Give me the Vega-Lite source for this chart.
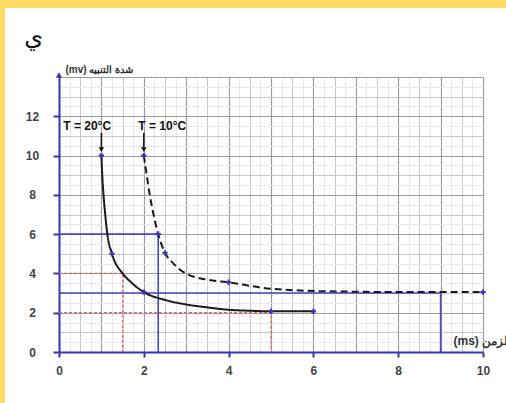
{
  "$schema": "https://vega.github.io/schema/vega-lite/v6.json",
  "width": 424,
  "height": 275,
  "autosize": "none",
  "padding": {"left": 59, "top": 77, "right": 23, "bottom": 51},
  "background": "white",
  "config": {"view": {"stroke": null}, "font": "Liberation Sans"},
  "datasets": {
    "refs": [
      {"id": "a", "o": 1, "x": 0, "y": 6},
      {"id": "a", "o": 2, "x": 2.34, "y": 6},
      {"id": "a", "o": 3, "x": 2.34, "y": 0},
      {"id": "b", "o": 1, "x": 0, "y": 3},
      {"id": "b", "o": 2, "x": 9, "y": 3},
      {"id": "b", "o": 3, "x": 9, "y": 0}
    ],
    "reds": [
      {"id": "a", "o": 1, "x": 0, "y": 4},
      {"id": "a", "o": 2, "x": 1.5, "y": 4},
      {"id": "a", "o": 3, "x": 1.5, "y": 0},
      {"id": "b", "o": 1, "x": 0, "y": 2},
      {"id": "b", "o": 2, "x": 5, "y": 2},
      {"id": "b", "o": 3, "x": 5, "y": 0}
    ],
    "curves": [
      {"T": "20", "x": 1, "y": 10},
      {"T": "20", "x": 1.02, "y": 9},
      {"T": "20", "x": 1.05, "y": 8},
      {"T": "20", "x": 1.09, "y": 7},
      {"T": "20", "x": 1.14, "y": 6},
      {"T": "20", "x": 1.25, "y": 5},
      {"T": "20", "x": 1.5, "y": 4},
      {"T": "20", "x": 1.7, "y": 3.55},
      {"T": "20", "x": 2, "y": 3.05},
      {"T": "20", "x": 2.5, "y": 2.65},
      {"T": "20", "x": 3, "y": 2.42},
      {"T": "20", "x": 3.5, "y": 2.27},
      {"T": "20", "x": 4, "y": 2.15},
      {"T": "20", "x": 4.5, "y": 2.1},
      {"T": "20", "x": 5, "y": 2.07},
      {"T": "20", "x": 6, "y": 2.07},
      {"T": "10", "x": 2, "y": 10},
      {"T": "10", "x": 2.07, "y": 9},
      {"T": "10", "x": 2.14, "y": 8},
      {"T": "10", "x": 2.23, "y": 7},
      {"T": "10", "x": 2.34, "y": 6},
      {"T": "10", "x": 2.5, "y": 5.05},
      {"T": "10", "x": 2.7, "y": 4.5},
      {"T": "10", "x": 2.95, "y": 4.05},
      {"T": "10", "x": 3.5, "y": 3.68},
      {"T": "10", "x": 4, "y": 3.55},
      {"T": "10", "x": 4.8, "y": 3.27},
      {"T": "10", "x": 5.8, "y": 3.12},
      {"T": "10", "x": 7, "y": 3.07},
      {"T": "10", "x": 8, "y": 3.05},
      {"T": "10", "x": 10, "y": 3.05}
    ],
    "markers": [
      {"x": 1, "y": 10},
      {"x": 1.25, "y": 5},
      {"x": 2, "y": 3.05},
      {"x": 5, "y": 2.07},
      {"x": 6, "y": 2.07},
      {"x": 2, "y": 10},
      {"x": 2.34, "y": 6},
      {"x": 2.5, "y": 5.05},
      {"x": 4, "y": 3.55},
      {"x": 10, "y": 3.05}
    ],
    "arrows": [
      {"x": 1, "top": 11.15, "tip": 10.3},
      {"x": 2, "top": 11.15, "tip": 10.3}
    ],
    "labels": [
      {"label": "T = 20°C", "x": 0.1, "y": 11.5},
      {"label": "T = 10°C", "x": 1.87, "y": 11.5}
    ]
  },
  "layer": [
    {
      "data": {"name": "refs"},
      "mark": {"type": "line", "color": "#4646c8", "strokeWidth": 1.6},
      "encoding": {
        "x": {"field": "x", "type": "quantitative", "scale": {"domain": [0, 10], "nice": false, "zero": false},
          "axis": {"orient": "top", "title": null, "domain": false, "ticks": false, "labels": false, "grid": true, "gridColor": "#e8e8e8", "gridWidth": 1,
            "values": [0.25, 0.75, 1.25, 1.75, 2.25, 2.75, 3.25, 3.75, 4.25, 4.75, 5.25, 5.75, 6.25, 6.75, 7.25, 7.75, 8.25, 8.75, 9.25, 9.75]}},
        "y": {"field": "y", "type": "quantitative", "scale": {"domain": [0, 14], "nice": false, "zero": false},
          "axis": {"orient": "right", "title": null, "domain": false, "ticks": false, "labels": false, "grid": true, "gridColor": "#e8e8e8", "gridWidth": 1,
            "values": [0.5, 1.5, 2.5, 3.5, 4.5, 5.5, 6.5, 7.5, 8.5, 9.5, 10.5, 11.5, 12.5, 13.5]}},
        "detail": {"field": "id"},
        "order": {"field": "o"}
      }
    },
    {
      "data": {"name": "reds"},
      "mark": {"type": "line", "color": "#e06464", "strokeWidth": 1.2, "strokeDash": [3, 2]},
      "encoding": {
        "x": {"field": "x", "type": "quantitative", "scale": {"domain": [0, 10], "nice": false, "zero": false},
          "axis": {"orient": "top", "title": null, "domain": false, "ticks": false, "labels": false, "grid": true, "gridColor": "#c8c8c8", "gridWidth": 1,
            "values": [0.5, 1.5, 2.5, 3.5, 4.5, 5.5, 6.5, 7.5, 8.5, 9.5]}},
        "y": {"field": "y", "type": "quantitative", "scale": {"domain": [0, 14], "nice": false, "zero": false},
          "axis": {"orient": "right", "title": null, "domain": false, "ticks": false, "labels": false, "grid": true, "gridColor": "#c8c8c8", "gridWidth": 1,
            "values": [1, 3, 5, 7, 9, 11, 13]}},
        "detail": {"field": "id"},
        "order": {"field": "o"}
      }
    },
    {
      "data": {"name": "curves"},
      "mark": {"type": "line", "color": "#1a1a1a", "strokeWidth": 2, "interpolate": "monotone"},
      "encoding": {
        "x": {"field": "x", "type": "quantitative", "scale": {"domain": [0, 10], "nice": false, "zero": false},
          "axis": {"orient": "bottom", "title": null, "domain": false, "ticks": false, "labels": false, "grid": true, "gridColor": "#9c9c9c", "gridWidth": 1.2,
            "values": [1, 2, 3, 4, 5, 6, 7, 8, 9, 10]}},
        "y": {"field": "y", "type": "quantitative", "scale": {"domain": [0, 14], "nice": false, "zero": false},
          "axis": {"orient": "left", "title": null, "domain": false, "ticks": false, "labels": false, "grid": true, "gridColor": "#9c9c9c", "gridWidth": 1.2,
            "values": [2, 4, 6, 8, 10, 12, 14]}},
        "detail": {"field": "T"},
        "strokeDash": {"field": "T", "type": "nominal", "scale": {"domain": ["20", "10"], "range": [[1, 0], [7, 4]]}, "legend": null}
      }
    },
    {
      "data": {"name": "markers"},
      "mark": {"type": "point", "shape": "cross", "filled": true, "size": 28, "color": "#3535c0", "opacity": 1},
      "encoding": {
        "x": {"field": "x", "type": "quantitative", "scale": {"domain": [0, 10], "nice": false, "zero": false},
          "axis": {"orient": "bottom", "grid": false, "values": [0, 2, 4, 6, 8, 10], "format": "d", "labelFlush": false,
            "domainColor": "#3535b5", "domainWidth": 2, "tickColor": "#3535b5", "tickWidth": 2, "tickSize": 5,
            "labelFontSize": 12, "labelFontWeight": "bold", "labelColor": "#444444", "labelPadding": 8,
            "title": "(ms) الزمن", "titleX": 394, "titleY": -12, "titleAlign": "left", "titleBaseline": "middle", "titleAngle": 0,
            "titleFontSize": 12, "titleFontWeight": "bold", "titleColor": "#333333"}},
        "y": {"field": "y", "type": "quantitative", "scale": {"domain": [0, 14], "nice": false, "zero": false},
          "axis": {"orient": "left", "grid": false, "values": [0, 2, 4, 6, 8, 10, 12], "format": "d",
            "domainColor": "#3535b5", "domainWidth": 2, "tickColor": "#3535b5", "tickWidth": 2, "tickSize": 6,
            "labelFontSize": 12, "labelFontWeight": "bold", "labelColor": "#444444", "labelPadding": 21, "labelAlign": "center", "labelBaseline": "middle",
            "title": "(mv) شدة التنبيه", "titleX": 6, "titleY": -8, "titleAlign": "left", "titleBaseline": "middle", "titleAngle": 0,
            "titleFontSize": 10, "titleFontWeight": "bold", "titleColor": "#333333"}}
      }
    },
    {
      "data": {"name": "arrows"},
      "mark": {"type": "rule", "color": "#111111", "strokeWidth": 1.5},
      "encoding": {
        "x": {"field": "x", "type": "quantitative", "axis": null},
        "y": {"field": "top", "type": "quantitative", "axis": null},
        "y2": {"field": "tip"}
      }
    },
    {
      "data": {"name": "arrows"},
      "mark": {"type": "point", "shape": "triangle-down", "filled": true, "size": 30, "color": "#111111", "opacity": 1},
      "encoding": {
        "x": {"field": "x", "type": "quantitative", "axis": null},
        "y": {"field": "tip", "type": "quantitative", "axis": null}
      }
    },
    {
      "data": {"name": "labels"},
      "mark": {"type": "text", "align": "left", "baseline": "middle", "fontSize": 12, "fontWeight": "bold", "color": "#111111"},
      "encoding": {
        "x": {"field": "x", "type": "quantitative", "axis": null},
        "y": {"field": "y", "type": "quantitative", "axis": null},
        "text": {"field": "label"}
      }
    },
    {
      "data": {"values": [{"letter": "ي"}]},
      "mark": {"type": "text", "align": "left", "baseline": "alphabetic", "fontSize": 24, "font": "DejaVu Sans", "color": "#111111", "clip": false},
      "encoding": {
        "x": {"datum": -0.82, "type": "quantitative", "axis": null},
        "y": {"datum": 15.65, "type": "quantitative", "axis": null},
        "text": {"field": "letter"}
      }
    },
    {
      "data": {"values": [{}]},
      "mark": {"type": "point", "shape": "triangle-up", "filled": true, "size": 40, "color": "#3535b5", "opacity": 1},
      "encoding": {
        "x": {"datum": 0, "type": "quantitative", "axis": null},
        "y": {"datum": 14.1, "type": "quantitative", "axis": null}
      }
    },
    {
      "data": {"values": [{}]},
      "mark": {"type": "rect", "color": "#FFD966", "clip": false},
      "encoding": {
        "x": {"datum": -1.6, "type": "quantitative", "axis": null},
        "x2": {"datum": 11},
        "y": {"datum": 17.51, "type": "quantitative", "axis": null},
        "y2": {"datum": 18.6}
      }
    },
    {
      "data": {"values": [{}]},
      "mark": {"type": "rect", "color": "#FFD966", "clip": false},
      "encoding": {
        "x": {"datum": -1.6, "type": "quantitative", "axis": null},
        "x2": {"datum": -1.274},
        "y": {"datum": -3, "type": "quantitative", "axis": null},
        "y2": {"datum": 18.6}
      }
    }
  ],
  "resolve": {"axis": {"x": "independent", "y": "independent"}}
}
